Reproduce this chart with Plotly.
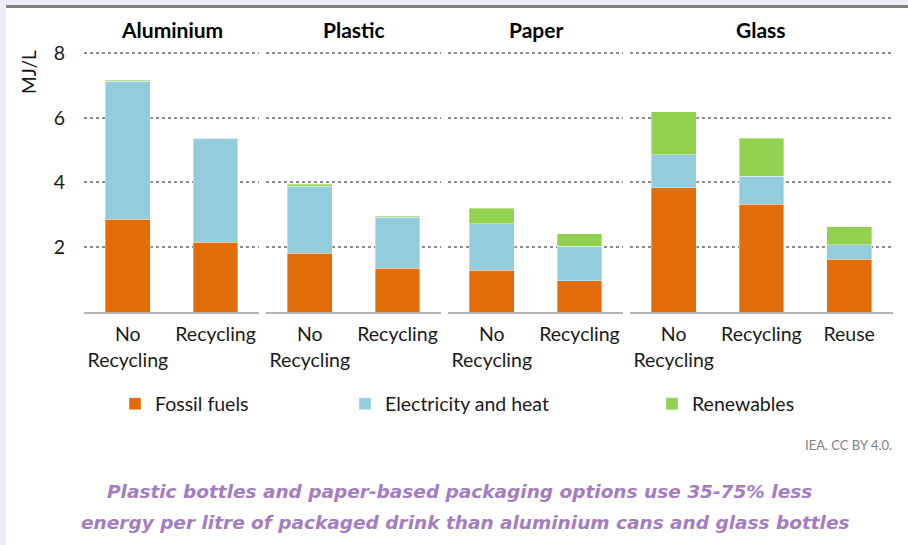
import plotly.graph_objects as go
from plotly.subplots import make_subplots

groups = ["Aluminium", "Plastic", "Paper", "Glass"]
options = [
    ["No<br>Recycling", "Recycling"],
    ["No<br>Recycling", "Recycling"],
    ["No<br>Recycling", "Recycling"],
    ["No<br>Recycling", "Recycling", "Reuse"],
]
fossil = [2.87, 2.15, 1.81, 1.35, 1.29, 0.97, 3.84, 3.33, 1.63]
elec = [4.26, 3.21, 2.08, 1.57, 1.43, 1.06, 1.02, 0.87, 0.44]
renew = [0.03, 0.0, 0.05, 0.04, 0.49, 0.38, 1.32, 1.16, 0.57]
series_names = ["Fossil fuels", "Electricity and heat", "Renewables"]
series_colors = ["#E36C0A", "#93CDDD", "#92D050"]
y_ticks = [2, 4, 6, 8]

FONT = "Lato"
W, H = 908, 545
L, R, T, B = 84, 15, 51, 233
pw, ph = W - L - R, H - T - B

def px2x(px):
    return (px - L) / pw

def px2y(py):
    return (H - B - py) / ph

fig = make_subplots(rows=1, cols=4, column_widths=[2, 2, 2, 3],
                    shared_yaxes=True, horizontal_spacing=6.5 / pw)

legends = ["legend", "legend2", "legend3"]
idx = 0
for g, (grp, opts) in enumerate(zip(groups, options)):
    n = len(opts)
    vals = [fossil[idx:idx + n], elec[idx:idx + n], renew[idx:idx + n]]
    for s in range(3):
        fig.add_trace(go.Bar(
            x=opts, y=vals[s], name=series_names[s],
            marker=dict(color=series_colors[s], line=dict(width=0.6, color="rgba(255,255,255,0.6)")),
            showlegend=(g == 0), legend=legends[s], legendgroup=series_names[s],
        ), row=1, col=g + 1)
    idx += n

fig.update_layout(
    barmode="stack", bargap=0.49,
    width=W, height=H,
    margin=dict(l=L, r=R, t=T, b=B),
    paper_bgcolor="white", plot_bgcolor="white",
    font=dict(family=FONT, size=19.5, color="#1a1a1a"),
)

for i in range(1, 5):
    fig.update_xaxes(row=1, col=i, showline=True, linecolor="#B3B3B3", linewidth=2,
                     showgrid=False, ticks="", tickfont=dict(size=19.5, family=FONT, color="#1a1a1a"),
                     ticklabelstandoff=4, fixedrange=True)
    fig.update_yaxes(row=1, col=i, range=[0, 8.06], tickvals=y_ticks, showgrid=True,
                     gridcolor="#8C8C8C", griddash="dot", gridwidth=1.5, zeroline=False,
                     showline=False, ticks="", fixedrange=True)
fig.update_yaxes(row=1, col=1, showticklabels=True, ticklabelstandoff=18,
                 tickfont=dict(size=19.5, family=FONT, color="#1a1a1a"))

# subplot titles
doms = [fig.layout.xaxis.domain, fig.layout.xaxis2.domain, fig.layout.xaxis3.domain, fig.layout.xaxis4.domain]
for grp, d in zip(groups, doms):
    fig.add_annotation(text="<b>" + grp + "</b>", x=(d[0] + d[1]) / 2, y=px2y(30), xref="paper", yref="paper",
                       xanchor="center", yanchor="middle", showarrow=False,
                       font=dict(size=21, family=FONT, color="#000"))

# legends
leg_common = dict(orientation="h", yanchor="middle", y=px2y(404), xanchor="left",
                  font=dict(size=19.5, family=FONT, color="#1a1a1a"), bgcolor="rgba(0,0,0,0)",
                  itemwidth=30, tracegroupgap=0)
fig.update_layout(
    legend=dict(x=px2x(115), **leg_common),
    legend2=dict(x=px2x(345), **leg_common),
    legend3=dict(x=px2x(652), **leg_common),
)

# axis title
fig.add_annotation(text="MJ/L", x=px2x(28), y=px2y(72), xref="paper", yref="paper",
                   xanchor="center", yanchor="middle",
                   textangle=-90, showarrow=False, font=dict(size=19, family=FONT, color="#1a1a1a"))

# source
fig.add_annotation(text="IEA. CC BY 4.0.", x=px2x(894), y=px2y(445), xref="paper", yref="paper",
                   xanchor="right", yanchor="middle", showarrow=False,
                   font=dict(size=13, family=FONT, color="#7F7F7F"))

# caption
cap_font = dict(size=18.5, family="DejaVu Sans", color="#A47CC0", weight="bold", style="italic")
fig.add_annotation(text="Plastic bottles and paper-based packaging options use 35-75% less",
                   x=px2x(459), y=px2y(491), xref="paper", yref="paper", xanchor="center",
                   yanchor="middle", showarrow=False, font=cap_font)
fig.add_annotation(text="energy per litre of packaged drink than aluminium cans and glass bottles",
                   x=px2x(465), y=px2y(522), xref="paper", yref="paper", xanchor="center",
                   yanchor="middle", showarrow=False, font=cap_font)

# frame: lavender strips and gray top line
lav = "#EEEBF6"
fig.add_shape(type="rect", xref="paper", yref="paper", x0=px2x(0), x1=px2x(6), y0=px2y(545), y1=px2y(0),
              fillcolor=lav, line_width=0, layer="below")
fig.add_shape(type="rect", xref="paper", yref="paper", x0=px2x(0), x1=px2x(908), y0=px2y(5), y1=px2y(0),
              fillcolor=lav, line_width=0, layer="below")
fig.add_shape(type="rect", xref="paper", yref="paper", x0=px2x(6), x1=px2x(908), y0=px2y(8), y1=px2y(5),
              fillcolor="#808080", line_width=0, layer="below")

fig.write_html("out.html", config={"displayModeBar": False},
               post_script="document.body.style.margin='0';document.body.style.padding='0';")
